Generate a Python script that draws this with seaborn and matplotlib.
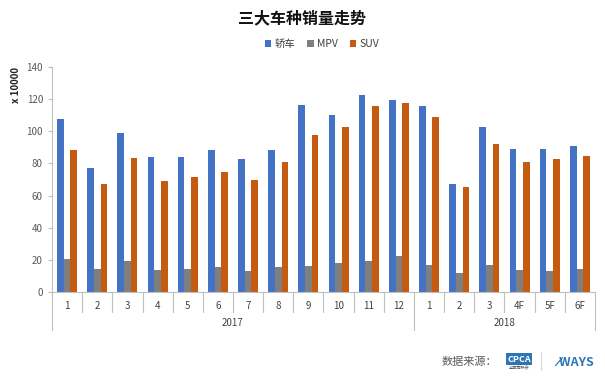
import numpy as np
import pandas as pd
import seaborn as sns
import matplotlib.pyplot as plt

# data (unit: 10,000 vehicles)
years = ["2017"] * 12 + ["2018"] * 6
months = ["1", "2", "3", "4", "5", "6", "7", "8", "9", "10", "11", "12",
          "1", "2", "3", "4F", "5F", "6F"]
sedan = [107.8, 77.1, 99.1, 83.7, 84.1, 88.5, 82.7, 88.5, 116.1, 110.3, 122.3, 119.6,
         115.9, 67.5, 102.6, 88.7, 88.7, 91.0]
mpv = [20.4, 14.5, 19.5, 13.9, 14.3, 15.6, 13.1, 15.6, 16.2, 17.9, 19.3, 22.4,
       17.0, 11.8, 16.8, 13.9, 13.3, 14.3]
suv = [88.3, 67.3, 83.3, 69.0, 71.7, 74.6, 69.8, 80.8, 97.4, 102.8, 115.9, 117.6,
       108.8, 65.6, 92.2, 81.0, 82.9, 84.5]
series_names = ["轿车", "MPV", "SUV"]
colors = ["#4472C4", "#7F7F7F", "#C55A11"]

keys = [y + "-" + m for y, m in zip(years, months)]
df = pd.DataFrame({"key": keys * 3,
                   "type": [series_names[0]] * 18 + [series_names[1]] * 18 + [series_names[2]] * 18,
                   "value": sedan + mpv + suv})

sns.set_style("white")
plt.rcParams["font.family"] = ["Noto Sans CJK SC", "DejaVu Sans"]

fig = plt.figure(figsize=(6.05, 3.76), dpi=100)
ax = fig.add_axes([52 / 605, 84 / 376, 543 / 605, 225 / 376])

sns.barplot(data=df, x="key", y="value", hue="type", order=keys,
            hue_order=series_names, palette=colors, width=0.66,
            saturation=1, linewidth=0, edgecolor="none", ax=ax, legend=True)

ax.set_ylim(0, 140)
ax.set_yticks(range(0, 141, 20))
ax.set_xlim(-0.5, len(keys) - 0.5)
ax.tick_params(axis="y", labelsize=7, labelcolor="#595959", color="#BFBFBF",
               length=3, width=0.8, direction="out", left=True)
ax.set_xticks([])
ax.set_xlabel("")
ax.set_ylabel("")
for s in ["top", "right"]:
    ax.spines[s].set_visible(False)
ax.spines["left"].set_color("#BFBFBF")
ax.spines["bottom"].set_color("#BFBFBF")

# category axis: month labels, separators, year groups
tr = ax.get_xaxis_transform()
for i, m in enumerate(months):
    ax.text(i, -0.062, m, transform=tr, ha="center", va="center", fontsize=7, color="#404040")
for i in range(len(keys) + 1):
    x = i - 0.5
    low = -0.17 if i in (0, 12, 18) else -0.09
    ax.plot([x, x], [0, low], transform=tr, color="#BFBFBF", lw=0.8, clip_on=False)
ax.text(5.5, -0.137, "2017", transform=tr, ha="center", va="center", fontsize=7, color="#404040")
ax.text(14.5, -0.137, "2018", transform=tr, ha="center", va="center", fontsize=7, color="#404040")

leg = ax.legend(loc="center", bbox_to_anchor=(322 / 605, 1 - 44 / 376), bbox_transform=fig.transFigure,
                ncol=3, frameon=False, fontsize=7.5, handlelength=0.6, handleheight=0.6,
                handletextpad=0.3, columnspacing=1.2)
for t in leg.get_texts():
    t.set_color("#404040")

fig.text(302 / 605, 1 - 18 / 376, "三大车种销量走势", ha="center", va="center",
         fontsize=11.5, fontweight="bold", color="#111111")
fig.text(16 / 605, 1 - 85 / 376, "x 10000", rotation=90, ha="center", va="center",
         fontsize=7, fontweight="bold", color="#222222")

# source footer
fig.text(497 / 605, 1 - 362 / 376, "数据来源：", ha="right", va="center", fontsize=8, color="#595959")
fig.text(519 / 605, 1 - 359 / 376, "CPCA", ha="center", va="center", fontsize=6.5,
         fontstyle="italic", fontweight="bold", color="white",
         bbox=dict(boxstyle="square,pad=0.15", fc="#2E75B6", ec="none"))
fig.text(519 / 605, 1 - 368 / 376, "全国乘联会", ha="center", va="center", fontsize=3, color="#595959")
fig.add_artist(plt.Line2D([541 / 605, 541 / 605], [1 - 370 / 376, 1 - 352 / 376],
                          color="#D9D9D9", lw=0.8))
fig.text(576 / 605, 1 - 362 / 376, "⁄WAYS", ha="center", va="center", fontsize=9,
         fontstyle="italic", fontweight="bold", color="#2E75B6")

fig.savefig("out.png", dpi=100)
